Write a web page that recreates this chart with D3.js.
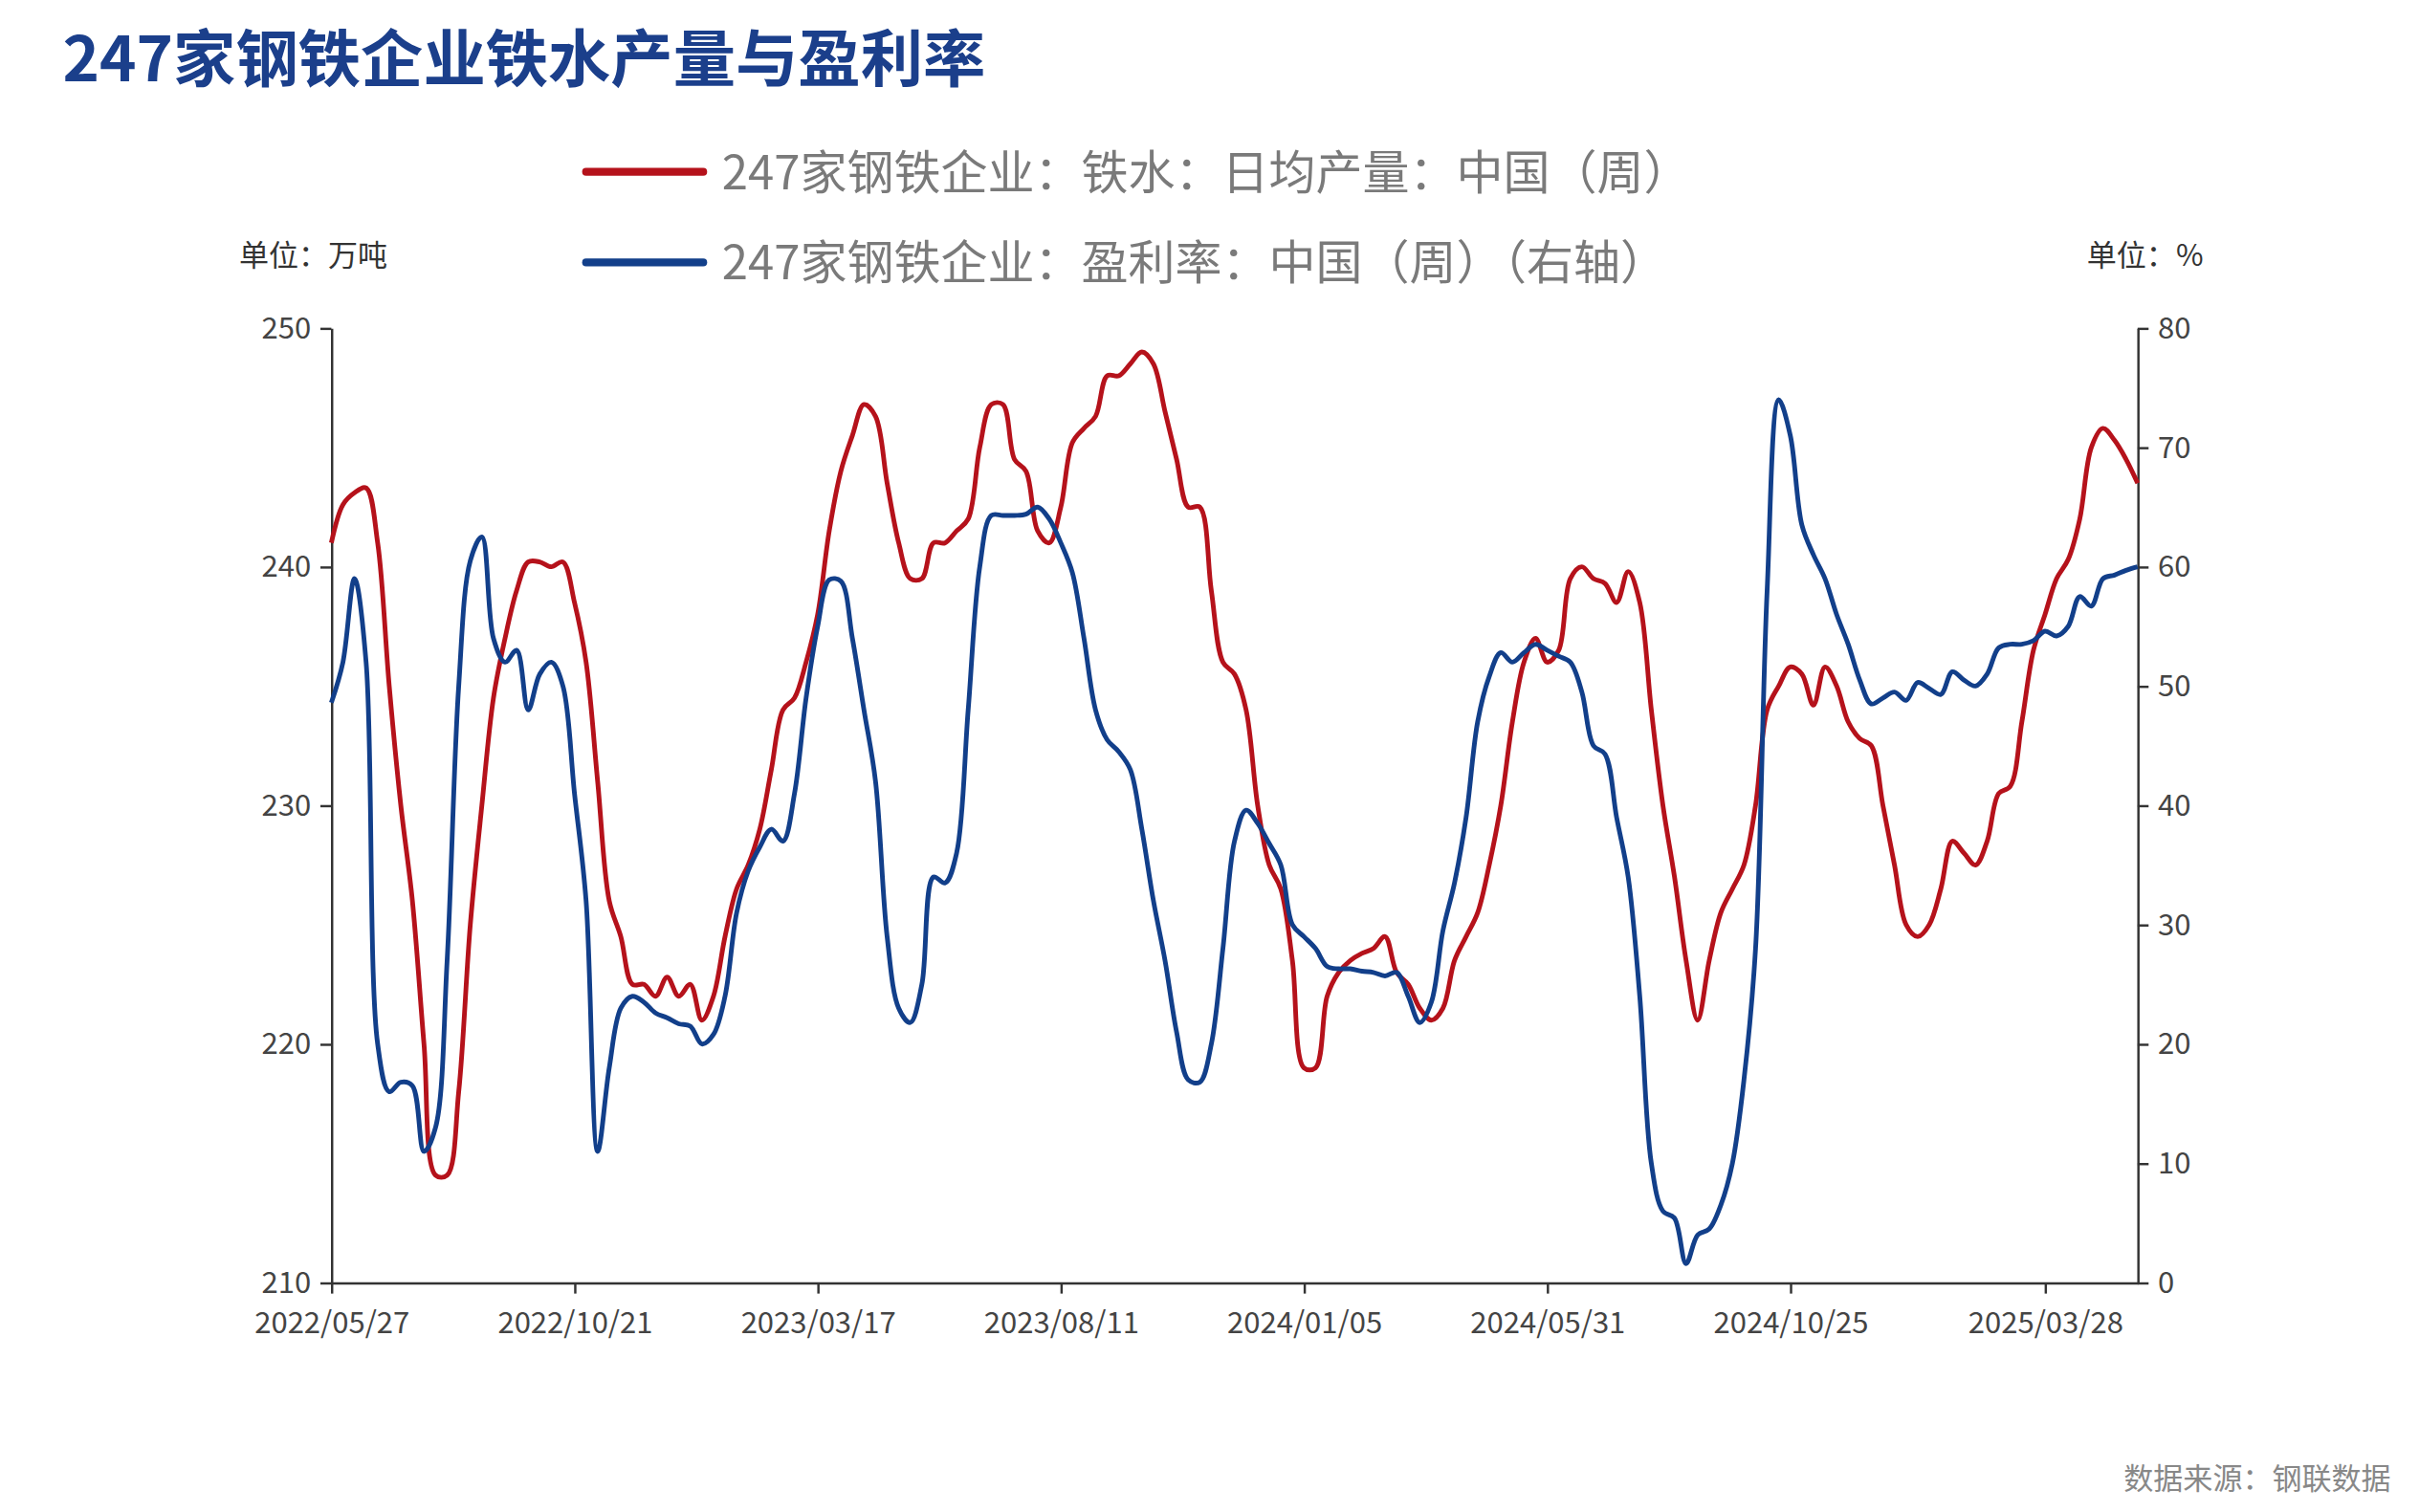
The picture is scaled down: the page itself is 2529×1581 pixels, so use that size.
<!DOCTYPE html>
<html><head><meta charset="utf-8">
<script src="https://cdn.jsdelivr.net/npm/d3@7"></script>
<style>body{margin:0;background:#fff}svg{display:block}text{font-family:"Noto Sans CJK SC","Noto Sans",sans-serif}</style>
</head><body><svg id="c" width="2529" height="1581" viewBox="0 0 1548 967.8"></svg>
<script>
// weekly, starting 2022/05/27
const startDate = new Date(2022, 4, 27);
const ironOutput = [241,242.6,243.1,243.3,241,235,230,226,220,214.5,214.5,218,225,230,234.5,237,239,240.2,240.2,240,240.2,238.5,236,231,226,224.5,222.5,222.5,222,222.8,
222,222.5,221,222,224.5,226.5,227.5,229,231.5,234,234.5,236,238,241.5,244,245.5,246.8,246.3,243.5,241,239.5,239.5,241,241,241.5,242,245,246.8,246.8,244.5,
244,241.5,241,242.5,245.2,245.8,246.3,248,248,248.5,249,248.5,246.5,244.5,242.5,242.5,239,236,235.5,234,230,227.5,226.5,223.5,219,219,222,223,223.5,223.8,
224,224.5,223,222.5,221.5,221,221.5,223.5,224.5,225.5,227.5,230,233.5,236,237,236,236.5,239.5,240,239.5,239.3,238.5,239.8,238.5,234,230,227,223.5,221,223.5,
225.5,226.5,227.5,230,234,235,235.8,235.5,234.2,235.8,235,233.5,232.8,232.5,230,227.5,225,224.5,225,226.5,228.5,228,227.5,228.5,230.5,230.8,233.5,236.5,238,239.5,
240.3,242,245,245.8,245.3,244.5,243.5];
const profitRate = [48.6,52,59,52,20,16,16.8,16.5,11,13,27,50,60.5,62.5,54,52,53,48,51,52,50,41,32,11,18,23,24,23.5,22.6,22.2,
21.7,21.5,20,20.8,24,31,34.5,36.5,38,37,41,49,55,58.9,58.8,54,48,42,29,23,21.8,25,34,33.5,36,48,60,64.3,64.3,64.3,
64.4,65,64,62,59.5,54,48,45.5,44.5,43,38,32,27,21,17,16.8,20,28,37,39.6,38.5,36.8,35,30,29,28,26.5,26.3,26.3,26.1,
26,25.7,26,24,21.8,23.5,29.5,33.5,39,47,50.8,52.8,52,52.8,53.5,53,52.5,52,49.5,45,44.3,39,34,24,10,6,5.4,1.6,4,4.5,
6.5,10,17,28,58,74,71,63.5,61,59,56,53.5,50.5,48.5,49,49.5,48.8,50.3,49.8,49.3,51.2,50.5,50,51,53.2,53.5,53.5,53.8,54.6,54.2,
55,57.5,56.7,59,59.3,59.7,60];
const leftTicks = [210,220,230,240,250];
const rightTicks = [0,10,20,30,40,50,60,70,80];
const xTickLabels = ["2022/05/27","2022/10/21","2023/03/17","2023/08/11","2024/01/05","2024/05/31","2024/10/25","2025/03/28"];
const seriesNames = ["247家钢铁企业：铁水：日均产量：中国（周）","247家钢铁企业：盈利率：中国（周）（右轴）"];
const colors = ["#b5121b","#123f8a"];

const dates = ironOutput.map((_, i) => d3.timeWeek.offset(startDate, i));
const parse = d3.timeParse("%Y/%m/%d"), fmt = d3.timeFormat("%Y/%m/%d");
const xTicks = xTickLabels.map(parse);

const svg = d3.select("#c");
const L = 212, R = 1368, T = 210, B = 821;
const x = d3.scaleTime().domain([dates[0], dates[dates.length - 1]]).range([L, R]);
const yL = d3.scaleLinear().domain([210, 250]).range([B, T]);
const yR = d3.scaleLinear().domain([0, 80]).range([B, T]);

svg.append("text").attr("x", 40).attr("y", 52).attr("font-size", 40).attr("font-weight", "bold")
  .attr("fill", "#1b3f8b").text("247家钢铁企业铁水产量与盈利率");

seriesNames.forEach((n, i) => {
  const yy = 110 + i * 58;
  svg.append("line").attr("x1", 375).attr("x2", 450).attr("y1", yy).attr("y2", yy)
    .attr("stroke", colors[i]).attr("stroke-width", 5).attr("stroke-linecap", "round");
  svg.append("text").attr("x", 462).attr("y", yy + 11).attr("font-size", 30).attr("fill", "#7a7a7a").text(n);
});
svg.append("text").attr("x", 153).attr("y", 170).attr("font-size", 19).attr("fill", "#333").text("单位：万吨");
svg.append("text").attr("x", 1410).attr("y", 170).attr("font-size", 19).attr("fill", "#333").attr("text-anchor", "end").text("单位：%");
svg.append("text").attr("x", 1530).attr("y", 953).attr("font-size", 19).attr("fill", "#888").attr("text-anchor", "end").text("数据来源：钢联数据");

function styleAxis(g) {
  g.selectAll("path,line").attr("stroke", "#333").attr("stroke-width", 1.5);
  g.selectAll("text").attr("font-size", 19).attr("fill", "#444").attr("font-family", "Roboto, sans-serif");
}
svg.append("g").attr("transform", `translate(${L},0)`)
  .call(d3.axisLeft(yL).tickValues(leftTicks).tickSize(7).tickSizeOuter(0).tickPadding(6)).call(styleAxis);
svg.append("g").attr("transform", `translate(${R},0)`)
  .call(d3.axisRight(yR).tickValues(rightTicks).tickSize(7).tickSizeOuter(0).tickPadding(6)).call(styleAxis);
svg.append("g").attr("transform", `translate(0,${B})`)
  .call(d3.axisBottom(x).tickValues(xTicks).tickFormat(fmt).tickSize(7).tickSizeOuter(0).tickPadding(12)).call(styleAxis);

const lineL = d3.line().x((d, i) => x(dates[i])).y(d => yL(d)).curve(d3.curveCatmullRom);
const lineR = d3.line().x((d, i) => x(dates[i])).y(d => yR(d)).curve(d3.curveCatmullRom);
svg.append("path").datum(ironOutput).attr("d", lineL).attr("fill", "none").attr("stroke", colors[0]).attr("stroke-width", 3);
svg.append("path").datum(profitRate).attr("d", lineR).attr("fill", "none").attr("stroke", colors[1]).attr("stroke-width", 3);
</script></body></html>
